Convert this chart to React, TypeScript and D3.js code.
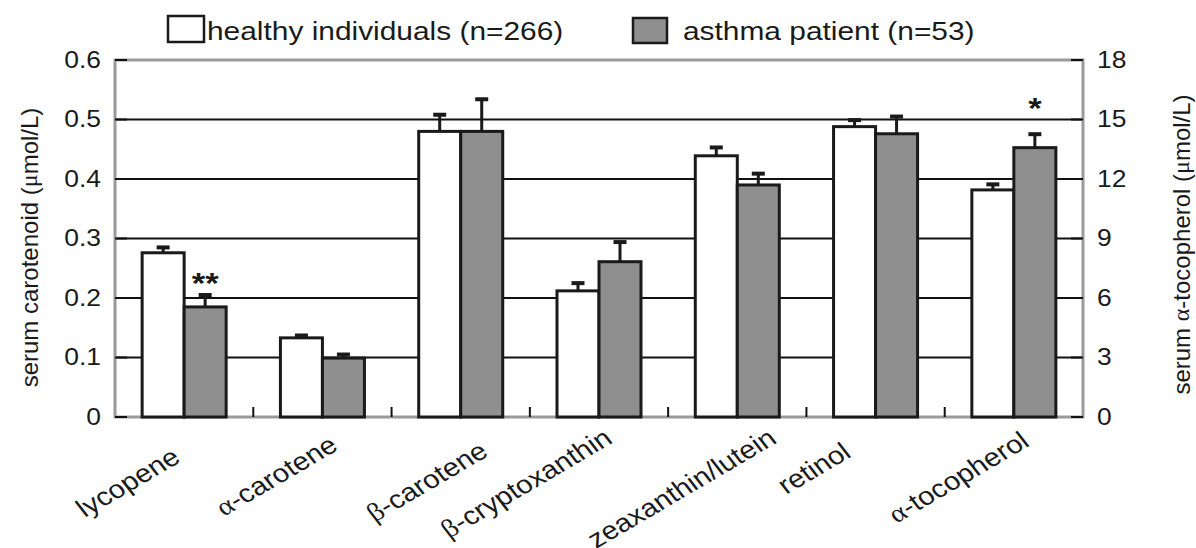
import React from "react";
import * as d3 from "d3";

// Serum antioxidant levels: healthy individuals vs asthma patients
const categories = [
  "lycopene",
  "α-carotene",
  "β-carotene",
  "β-cryptoxanthin",
  "zeaxanthin/lutein",
  "retinol",
  "α-tocopherol",
];
// α-tocopherol is read on the right-hand axis (µmol/L), the rest on the left
const rightAxisCategory = "α-tocopherol";

const healthyMean = [0.276, 0.133, 0.48, 0.212, 0.439, 0.488, 11.45];
const healthySem = [0.009, 0.004, 0.028, 0.013, 0.014, 0.011, 0.28];
const asthmaMean = [0.185, 0.099, 0.48, 0.261, 0.39, 0.476, 13.58];
const asthmaSem = [0.02, 0.006, 0.054, 0.033, 0.019, 0.029, 0.68];
const significance = ["**", "", "", "", "", "", "*"];

const leftTicks = [0, 0.1, 0.2, 0.3, 0.4, 0.5, 0.6];
const rightTicks = [0, 3, 6, 9, 12, 15, 18];

const legendLabels = ["healthy individuals (n=266)", "asthma patient (n=53)"];
const leftTitle = "serum carotenoid (μmol/L)";
const rightTitle = "serum α-tocopherol (μmol/L)";

// layout
const W = 1196;
const H = 548;
const M = { left: 115, right: 1083, top: 60, bottom: 417 };
const SX = 1.15; // horizontal text stretch
const FONT = "'Liberation Sans', Arial, Helvetica, sans-serif";
const GREEK = "'Liberation Serif', 'Times New Roman', serif";
const GRAY = "#8f8f8f";
const FRAME = "#9a9a9a";

// nudges for the rotated category labels (end anchor, relative to band centre)
const labelNudgeX = [-2, 17, 29, 15, 41, -23, 17];
const labelEndY = [461, 449, 455, 442, 442, 456, 445];
// lift of significance marks above the top of the error bar
const sigLift = [16, 0, 0, 0, 0, 0, 30];

// Renders text whose Greek letters use a serif face
function rich(s: string) {
  const parts = s.split(/([αβμ])/).filter((p) => p.length > 0);
  return parts.map((p, i) =>
    /[αβμ]/.test(p) ? (
      <tspan key={i} fontFamily={GREEK}>
        {p}
      </tspan>
    ) : (
      <tspan key={i}>{p}</tspan>
    )
  );
}

function SText(props: {
  x: number;
  y: number;
  rotate?: number;
  anchor?: string;
  size: number;
  weight?: string | number;
  baseline?: string;
  sx?: number;
  children: any;
}) {
  const { x, y, rotate = 0, anchor = "start", size, weight, baseline, sx = SX, children } = props;
  return (
    <text
      transform={`translate(${x},${y}) scale(${sx},1) rotate(${rotate})`}
      textAnchor={anchor}
      fontSize={size}
      fontWeight={weight}
      dominantBaseline={baseline}
      fontFamily={FONT}
      fill="#1a1a1a"
    >
      {children}
    </text>
  );
}

export default function App() {
  const x0 = d3.scaleBand<string>().domain(categories).range([M.left, M.right]).padding(0);
  const groups = ["healthy", "asthma"];
  const x1 = d3
    .scaleBand<string>()
    .domain(groups)
    .range([0, x0.bandwidth()])
    .paddingInner(0)
    .paddingOuter(0.646);
  const yL = d3.scaleLinear().domain([0, 0.6]).range([M.bottom, M.top]);
  const yR = d3.scaleLinear().domain([0, 18]).range([M.bottom, M.top]);
  const yFor = (cat: string) => (cat === rightAxisCategory ? yR : yL);

  const bars = categories.flatMap((cat, i) => [
    { cat, i, g: "healthy", v: healthyMean[i], e: healthySem[i] },
    { cat, i, g: "asthma", v: asthmaMean[i], e: asthmaSem[i] },
  ]);

  const bw = x1.bandwidth();
  const capW = 13;

  return (
    <svg
      width={W}
      height={H}
      style={{ position: "absolute", left: 0, top: 0, background: "#fff" }}
    >
      <rect x={0} y={0} width={W} height={H} fill="#fff" />

      {/* gridlines */}
      {leftTicks
        .filter((t) => t > 0 && t < 0.6)
        .map((t) => (
          <line
            key={"g" + t}
            x1={M.left}
            x2={M.right}
            y1={yL(t)}
            y2={yL(t)}
            stroke="#111"
            strokeWidth={2}
          />
        ))}

      {/* plot frame */}
      <rect
        x={M.left}
        y={M.top}
        width={M.right - M.left}
        height={M.bottom - M.top}
        fill="none"
        stroke={FRAME}
        strokeWidth={3}
      />

      {/* inner ticks on both value axes */}
      {leftTicks.map((t) => (
        <line
          key={"lt" + t}
          x1={M.left}
          x2={M.left + 12}
          y1={yL(t)}
          y2={yL(t)}
          stroke="#111"
          strokeWidth={2}
        />
      ))}
      {rightTicks.map((t) => (
        <line
          key={"rt" + t}
          x1={M.right - 12}
          x2={M.right}
          y1={yR(t)}
          y2={yR(t)}
          stroke="#111"
          strokeWidth={2}
        />
      ))}
      {/* category boundary ticks */}
      {categories.slice(1).map((c) => (
        <line
          key={"ct" + c}
          x1={x0(c)!}
          x2={x0(c)!}
          y1={M.bottom - 10}
          y2={M.bottom}
          stroke="#111"
          strokeWidth={2}
        />
      ))}

      {/* bars */}
      {bars.map((b) => {
        const y = yFor(b.cat);
        const bx = x0(b.cat)! + x1(b.g)!;
        return (
          <rect
            key={b.cat + b.g}
            x={bx}
            y={y(b.v)}
            width={bw}
            height={M.bottom - y(b.v)}
            fill={b.g === "healthy" ? "#fff" : GRAY}
            stroke="#1a1a1a"
            strokeWidth={3}
          />
        );
      })}

      {/* error bars (upper only) */}
      {bars.map((b) => {
        const y = yFor(b.cat);
        const cx = x0(b.cat)! + x1(b.g)! + bw / 2;
        const top = y(b.v + b.e);
        return (
          <g key={"e" + b.cat + b.g} stroke="#1a1a1a">
            <line x1={cx} x2={cx} y1={y(b.v)} y2={top} strokeWidth={3} />
            <line x1={cx - capW / 2} x2={cx + capW / 2} y1={top} y2={top} strokeWidth={4} />
          </g>
        );
      })}

      {/* significance marks */}
      {categories.map((cat, i) => {
        if (!significance[i]) return null;
        const y = yFor(cat);
        const cx = x0(cat)! + x1("asthma")! + bw / 2;
        const top = y(asthmaMean[i] + asthmaSem[i]);
        return (
          <SText key={"s" + cat} x={cx} y={top - sigLift[i] + 14} anchor="middle" size={30} weight="bold">
            {significance[i]}
          </SText>
        );
      })}

      {/* left axis labels */}
      {leftTicks.map((t) => (
        <SText key={"ll" + t} x={101} y={yL(t)} anchor="end" size={23} baseline="central">
          {t === 0 ? "0" : d3.format(".1f")(t)}
        </SText>
      ))}
      {/* right axis labels */}
      {rightTicks.map((t) => (
        <SText key={"rl" + t} x={1097} y={yR(t)} anchor="start" size={23} baseline="central">
          {String(t)}
        </SText>
      ))}

      {/* axis titles */}
      <SText x={29} y={(M.top + M.bottom) / 2 + 9} rotate={-90} anchor="middle" size={24} baseline="central" sx={1}>
        {rich(leftTitle)}
      </SText>
      <SText x={1181} y={(M.top + M.bottom) / 2 + 6} rotate={-90} anchor="middle" size={24} baseline="central" sx={1}>
        {rich(rightTitle)}
      </SText>

      {/* category labels */}
      {categories.map((cat, i) => (
        <SText
          key={"cl" + cat}
          x={x0(cat)! + x0.bandwidth() / 2 + labelNudgeX[i]}
          y={labelEndY[i]}
          rotate={-34}
          anchor="end"
          size={25.5}
        >
          {rich(cat)}
        </SText>
      ))}

      {/* legend */}
      <rect x={168} y={16} width={36} height={26} fill="#fff" stroke="#1a1a1a" strokeWidth={2.5} />
      <SText x={207} y={40} size={26}>
        {legendLabels[0]}
      </SText>
      <rect x={633} y={18} width={34} height={25} fill={GRAY} stroke="#1a1a1a" strokeWidth={2.5} />
      <SText x={683} y={40} size={26}>
        {legendLabels[1]}
      </SText>
    </svg>
  );
}
